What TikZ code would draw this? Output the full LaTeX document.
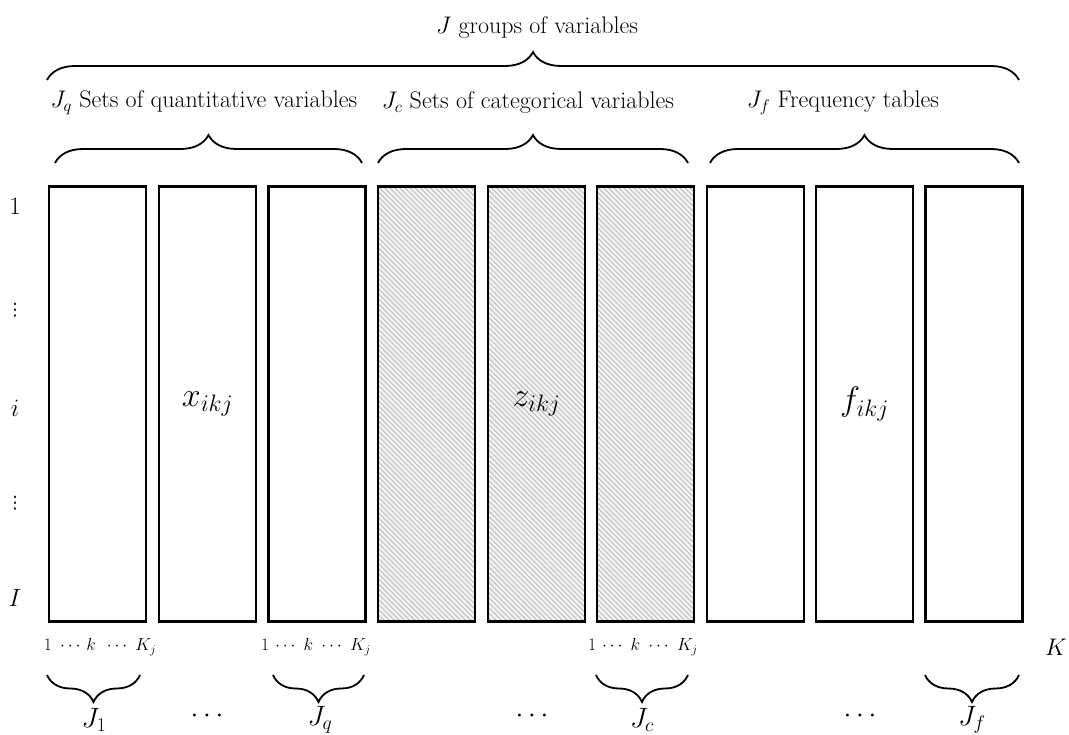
\documentclass[tikz,border=0pt]{standalone}
\usepackage{fix-cm}
\usepackage{fontspec}
\newfontfamily\dvfont{DejaVu Sans}
\usetikzlibrary{decorations.pathreplacing,patterns.meta}
\begin{document}
\begin{tikzpicture}[x=1pt,y=-1pt,
  box/.style={draw, line width=2.6pt, minimum width=97pt, minimum height=435pt, inner sep=0pt, font=\fontsize{34}{38}\selectfont},
  hatchbox/.style={box, preaction={fill=gray!8}, pattern={Lines[angle=-45,distance=3.6pt,line width=1.1pt]}, pattern color=gray!50},
  bracetop/.style={decorate, decoration={brace, amplitude=28pt}, line width=1.8pt},
  bracebot/.style={decorate, decoration={brace, mirror, amplitude=27pt}, line width=1.8pt},
  lbl/.style={font=\fontsize{24}{28}\selectfont, inner sep=0pt},
  rowlbl/.style={font=\fontsize{25}{28}\selectfont, inner sep=0pt},
  dotlbl/.style={font=\dvfont\fontsize{17}{20}\selectfont, inner sep=0pt},
  small/.style={font=\fontsize{17.5}{20}\selectfont, inner sep=0pt},
  big/.style={font=\fontsize{28}{32}\selectfont, inner sep=0pt}]
\useasboundingbox (0,0) rectangle (1069,735);
% boxes
\node[box] (b1) at (97.5,404) {};
\node[box] (b2) at (207.5,404) {$x_{ikj}$};
\node[box] (b3) at (317,404) {};
\node[hatchbox] (b4) at (426.5,404) {};
\node[hatchbox] (b5) at (536.5,404) {$z_{ikj}$};
\node[hatchbox] (b6) at (645.5,404) {};
\node[box] (b7) at (755.5,404) {};
\node[box] (b8) at (864.5,404) {$f_{ikj}$};
\node[box] (b9) at (974,404) {};
% row labels
\node[rowlbl] (r1) at (15,206) {1};
\node[dotlbl] (r2) at (15,310) {⋮};
\node[rowlbl] (r3) at (15,408) {$i$};
\node[dotlbl] (r4) at (15,503) {⋮};
\node[rowlbl] (r5) at (15,598) {$I$};
% top texts
\node[lbl] (tJ) at (537,28) {$J$ groups of variables};
\node[lbl] (tq) at (204,103) {$J_q$ Sets of quantitative variables};
\node[lbl] (tc) at (528,103) {$J_c$ Sets of categorical variables};
\node[lbl] (tf) at (843,103) {$J_f$ Frequency tables};
% top braces
\coordinate (A1) at (47,80);  \coordinate (A2) at (1019,80);
\coordinate (q1) at (55,163); \coordinate (q2) at (362,163);
\coordinate (c1) at (378,163); \coordinate (c2) at (688,163);
\coordinate (f1) at (710,163); \coordinate (f2) at (1019,163);
\draw[bracetop] (A1) -- (A2);
\draw[bracetop] (q1) -- (q2);
\draw[bracetop] (c1) -- (c2);
\draw[bracetop] (f1) -- (f2);
% column index labels
\node[small] (k1) at (100,647) {$1\ \cdots\, k\,\ \cdots\ K_j$};
\node[small] (k3) at (316,647) {$1\,\cdots\ k\ \cdots\ K_j$};
\node[small] (k6) at (643,647) {$1\,\cdots\ k\ \cdots\ K_j$};
\node[lbl] (K) at (1056,647) {$K$};
% bottom braces
\coordinate (u1) at (47,675);  \coordinate (u2) at (140,675);
\coordinate (v1) at (273,675); \coordinate (v2) at (364,675);
\coordinate (w1) at (596,675); \coordinate (w2) at (688,675);
\coordinate (y1) at (925,675); \coordinate (y2) at (1019,675);
\draw[bracebot] (u1) -- (u2);
\draw[bracebot] (v1) -- (v2);
\draw[bracebot] (w1) -- (w2);
\draw[bracebot] (y1) -- (y2);
% bottom labels
\node[big] (J1) at (94,720) {$J_1$};
\node[big] (d1) at (207,716) {$\cdots$};
\node[big] (Jq) at (320,720) {$J_q$};
\node[big] (d2) at (532,716) {$\cdots$};
\node[big] (Jc) at (642,720) {$J_c$};
\node[big] (d3) at (860,716) {$\cdots$};
\node[big] (Jf) at (972,720) {$J_f$};
\end{tikzpicture}
\end{document}
